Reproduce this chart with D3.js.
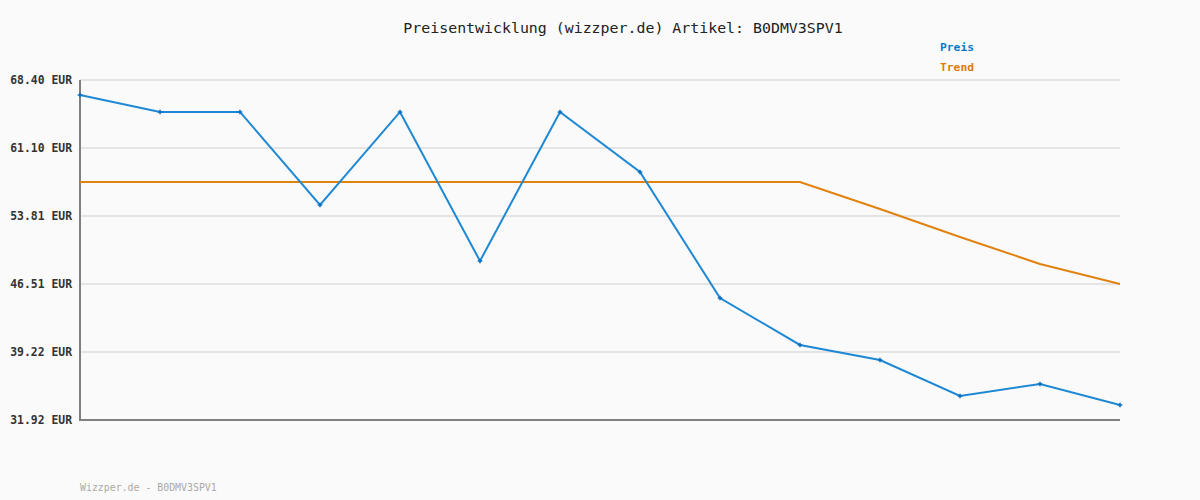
<!DOCTYPE html>
<html>
<head>
<meta charset="utf-8">
<script src="https://cdn.jsdelivr.net/npm/d3@7"></script>
<style>
  body { margin: 0; background: #fafafa; }
  svg { display: block; }
</style>
</head>
<body>
<svg id="chart"></svg>
<script>
// data
const indices = d3.range(14);
const priceValues = [66.79, 64.97, 64.97, 54.99, 64.97, 48.98, 64.97, 58.53, 45.01, 39.97, 38.36, 34.50, 35.78, 33.53];
const trendValues = [57.46, 57.46, 57.46, 57.46, 57.46, 57.46, 57.46, 57.46, 57.46, 57.46, 54.56, 51.56, 48.66, 46.51];
const tickValues = [31.92, 39.22, 46.51, 53.81, 61.10, 68.40];
const tickLabels = ["31.92 EUR", "39.22 EUR", "46.51 EUR", "53.81 EUR", "61.10 EUR", "68.40 EUR"];

const width = 1200;
const height = 500;
const margin = { top: 80, right: 80, bottom: 80, left: 80 };
const font = "'DejaVu Sans Mono', monospace";

const svg = d3.select("#chart").attr("width", width).attr("height", height);

svg.append("rect").attr("width", width).attr("height", height).attr("fill", "#fafafa");

const x = d3.scaleLinear()
  .domain([0, indices.length - 1])
  .range([margin.left, width - margin.right]);

const y = d3.scaleLinear()
  .domain([31.92, 68.40])
  .range([height - margin.bottom, margin.top]);

// horizontal grid lines
svg.append("g")
  .selectAll("line")
  .data(tickValues)
  .join("line")
  .attr("x1", margin.left)
  .attr("x2", width - margin.right)
  .attr("y1", d => y(d))
  .attr("y2", d => y(d))
  .attr("stroke", "#e4e4e4")
  .attr("stroke-width", 2);

// y labels
svg.append("g")
  .selectAll("text")
  .data(tickValues)
  .join("text")
  .attr("x", margin.left - 8)
  .attr("y", d => y(d))
  .attr("dy", "0.35em")
  .attr("text-anchor", "end")
  .attr("font-family", font)
  .attr("font-weight", "bold")
  .attr("font-size", "11.4px")
  .attr("fill", "#333")
  .text((d, i) => tickLabels[i]);

// axes
svg.append("line")
  .attr("x1", margin.left).attr("x2", margin.left)
  .attr("y1", margin.top).attr("y2", height - margin.bottom + 1)
  .attr("stroke", "#808080").attr("stroke-width", 2);

svg.append("line")
  .attr("x1", margin.left - 1).attr("x2", width - margin.right)
  .attr("y1", height - margin.bottom).attr("y2", height - margin.bottom)
  .attr("stroke", "#808080").attr("stroke-width", 2);

const line = d3.line()
  .x((d, i) => x(i))
  .y(d => y(d));

// trend
svg.append("path")
  .datum(trendValues)
  .attr("d", line)
  .attr("fill", "none")
  .attr("stroke", "#e0820f")
  .attr("stroke-width", 2);

// price
svg.append("path")
  .datum(priceValues)
  .attr("d", line)
  .attr("fill", "none")
  .attr("stroke", "#1e88d4")
  .attr("stroke-width", 2);

svg.append("g")
  .selectAll("path")
  .data(priceValues)
  .join("path")
  .attr("transform", (d, i) => `translate(${x(i)},${y(d)})`)
  .attr("d", d3.symbol(d3.symbolCross, 12))
  .attr("fill", "#0a70c0");

// title
svg.append("text")
  .attr("x", 623)
  .attr("y", 33)
  .attr("text-anchor", "middle")
  .attr("font-family", font)
  .attr("font-size", "14.9px")
  .attr("fill", "#222")
  .text("Preisentwicklung (wizzper.de) Artikel: B0DMV3SPV1");

// legend
svg.append("text")
  .attr("x", 940).attr("y", 51)
  .attr("font-family", font).attr("font-weight", "bold")
  .attr("font-size", "11.3px").attr("fill", "#0a78c8")
  .text("Preis");

svg.append("text")
  .attr("x", 940).attr("y", 71)
  .attr("font-family", font).attr("font-weight", "bold")
  .attr("font-size", "11.3px").attr("fill", "#e07a0a")
  .text("Trend");

// footer
svg.append("text")
  .attr("x", 80).attr("y", 491)
  .attr("font-family", font)
  .attr("font-size", "9.9px").attr("fill", "#aaa")
  .text("Wizzper.de - B0DMV3SPV1");
</script>
</body>
</html>
